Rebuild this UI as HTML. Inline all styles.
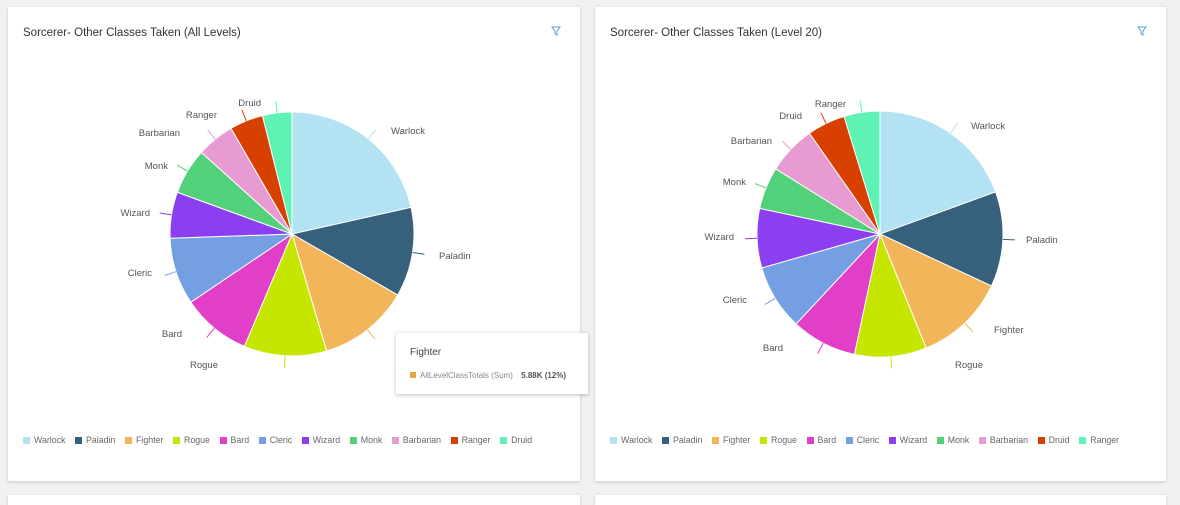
<!DOCTYPE html>
<html><head><meta charset="utf-8"><style>
body{margin:0;width:1180px;height:499px;background:#f2f1f0;font-family:"Liberation Sans",sans-serif;overflow:hidden;position:relative}
.card{position:absolute;background:#fff;box-shadow:0 1px 3px rgba(0,0,0,.18)}
.t{position:absolute;left:15px;top:20px;font-size:11.5px;color:#333}
.leg{position:absolute;left:15px;top:428px;font-size:8.8px;color:#666;white-space:nowrap}
.leg span{display:inline-block;margin-right:9.6px}
.leg i{display:inline-block;width:7px;height:7px;margin-right:4px;vertical-align:-1px}
svg text{font-family:"Liberation Sans",sans-serif;font-size:9.5px;fill:#555}
</style></head><body>
<div class="card" style="left:8px;top:7px;width:572px;height:474px"><div class="t">Sorcerer- Other Classes Taken (All Levels)</div>
<div class="leg"><span><i style="background:#b3e3f2"></i>Warlock</span><span><i style="background:#37607d"></i>Paladin</span><span><i style="background:#f2b55a"></i>Fighter</span><span><i style="background:#c6e600"></i>Rogue</span><span><i style="background:#e23fc8"></i>Bard</span><span><i style="background:#74a0e3"></i>Cleric</span><span><i style="background:#8c3ff0"></i>Wizard</span><span><i style="background:#52d17a"></i>Monk</span><span><i style="background:#e89ad3"></i>Barbarian</span><span><i style="background:#d84000"></i>Ranger</span><span><i style="background:#5ef2b4"></i>Druid</span></div></div>
<div class="card" style="left:595px;top:7px;width:571px;height:474px"><div class="t">Sorcerer- Other Classes Taken (Level 20)</div>
<div class="leg"><span><i style="background:#b3e3f2"></i>Warlock</span><span><i style="background:#37607d"></i>Paladin</span><span><i style="background:#f2b55a"></i>Fighter</span><span><i style="background:#c6e600"></i>Rogue</span><span><i style="background:#e23fc8"></i>Bard</span><span><i style="background:#74a0e3"></i>Cleric</span><span><i style="background:#8c3ff0"></i>Wizard</span><span><i style="background:#52d17a"></i>Monk</span><span><i style="background:#e89ad3"></i>Barbarian</span><span><i style="background:#d84000"></i>Druid</span><span><i style="background:#5ef2b4"></i>Ranger</span></div></div>
<div class="card" style="left:8px;top:495px;width:572px;height:10px"></div>
<div class="card" style="left:595px;top:495px;width:571px;height:10px"></div>
<svg id="s" width="1180" height="499" style="position:absolute;left:0;top:0">
<g id="p1"></g><g id="p2"></g>
<text x="391" y="134">Warlock</text><text x="439" y="259">Paladin</text>
<text x="218" y="368" text-anchor="end">Rogue</text><text x="182" y="337" text-anchor="end">Bard</text>
<text x="152" y="276" text-anchor="end">Cleric</text><text x="150" y="216" text-anchor="end">Wizard</text>
<text x="168" y="169" text-anchor="end">Monk</text><text x="180" y="136" text-anchor="end">Barbarian</text>
<text x="217" y="118" text-anchor="end">Ranger</text><text x="261" y="106" text-anchor="end">Druid</text>
<text x="971" y="129">Warlock</text><text x="1026" y="243">Paladin</text>
<text x="994" y="333">Fighter</text><text x="955" y="368">Rogue</text>
<text x="783" y="351" text-anchor="end">Bard</text><text x="747" y="303" text-anchor="end">Cleric</text>
<text x="734" y="240" text-anchor="end">Wizard</text><text x="746" y="185" text-anchor="end">Monk</text>
<text x="772" y="144" text-anchor="end">Barbarian</text><text x="802" y="119" text-anchor="end">Druid</text>
<text x="846" y="107" text-anchor="end">Ranger</text>
<path d="M552 27h8l-3 4v4l-2-1v-3z" fill="none" stroke="#5aa0c8" stroke-width="1"/>
<path d="M1138 27h8l-3 4v4l-2-1v-3z" fill="none" stroke="#5aa0c8" stroke-width="1"/>
</svg>
<div style="position:absolute;left:396px;top:333px;width:192px;height:61px;background:#fff;box-shadow:0 1px 4px rgba(0,0,0,.25);font-size:10px;color:#444">
<div style="position:absolute;left:14px;top:14px">Fighter</div>
<div style="position:absolute;left:14px;top:38px;font-size:8px;color:#888"><i style="display:inline-block;width:6px;height:6px;background:#e0a83c;margin-right:4px"></i>AllLevelClassTotals (Sum) <b style="color:#555;margin-left:6px">5.88K (12%)</b></div></div>
<script>
var C=["#b3e3f2","#37607d","#f2b55a","#c6e600","#e23fc8","#74a0e3","#8c3ff0","#52d17a","#e89ad3","#d84000","#5ef2b4"];
var C2=C.slice(0,9).concat(["#d84000","#5ef2b4"]);
function pie(id,cx,cy,r,ends,cols){var g=document.getElementById(id),a0=0,h="";
ends.forEach(function(a1,i){var f=function(a){a=a*Math.PI/180;return[cx+r*Math.sin(a),cy-r*Math.cos(a)]};var p=f(a0),q=f(a1);
h+='<path d="M'+cx+' '+cy+'L'+p[0]+' '+p[1]+'A'+r+' '+r+' 0 '+(a1-a0>180?1:0)+' 1 '+q[0]+' '+q[1]+'Z" fill="'+cols[i]+'" stroke="#fff" stroke-width="1"/>';
var m=f((a0+a1)/2),n=[cx+(r+12)*Math.sin((a0+a1)/2*Math.PI/180),cy-(r+12)*Math.cos((a0+a1)/2*Math.PI/180)];
h+='<line x1="'+m[0]+'" y1="'+m[1]+'" x2="'+n[0]+'" y2="'+n[1]+'" stroke="'+cols[i]+'"/>';a0=a1;});g.innerHTML=h;}
pie("p1",292,234,122,[77.4,120,163.5,203,236,268,290,312,330,346,360],C);
pie("p2",880,234,123,[70,115,158,192,223,254,282,302,325,343,360],C2);
</script>
</body></html>
